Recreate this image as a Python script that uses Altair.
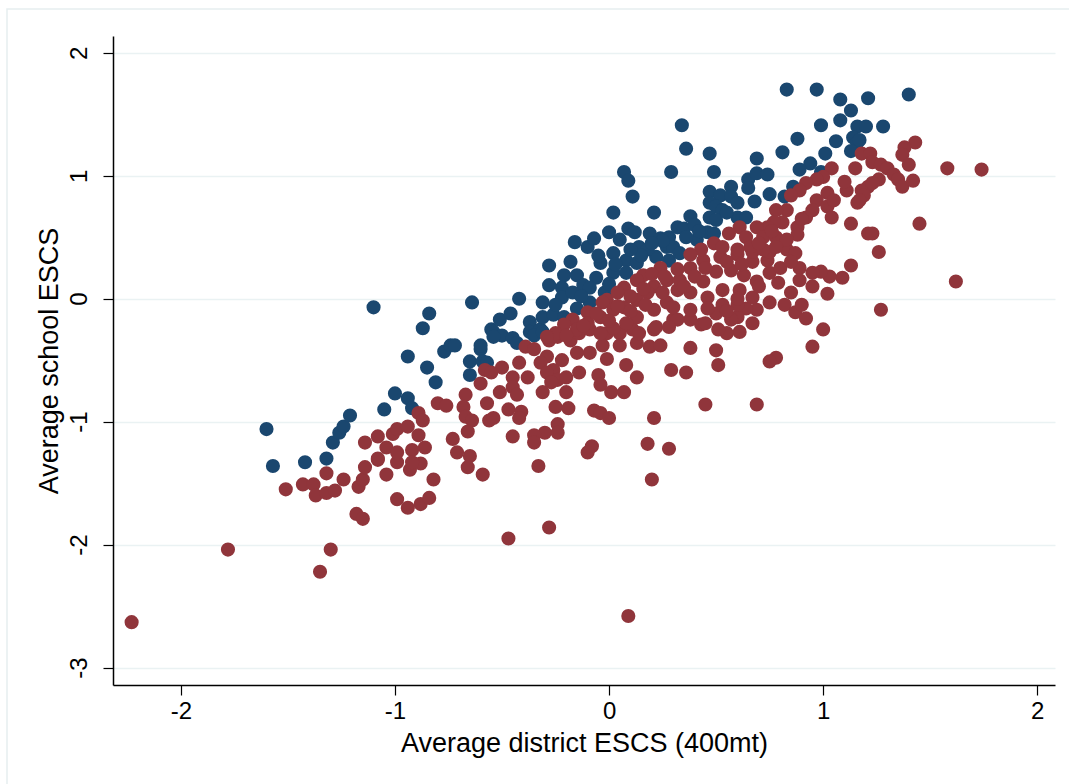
import altair as alt
import pandas as pd

# Blue group (navy)
blue_x = [-1.60,-1.57,-1.42,-1.32,-1.29,-1.26,-1.24,-1.21,-1.10,-1.05,-1.00,-0.94,-0.92,-0.94,-0.87,-0.84,-0.85,-0.81,-0.77,-0.74,
          -0.72,-0.65,-0.65,-0.64,-0.60,-0.59,-0.55,-0.54,-0.50,-0.45,-0.51,-0.46,-0.42,-0.37,-0.37,-0.32,-0.31,-0.31,-0.26,-0.21,
          -0.15,-0.09,-0.28,-0.21,-0.15,-0.04,0.08,0.13,0.22,0.28,-0.28,-0.22,-0.12,-0.06,0.02,0.08,-0.22,-0.17,-0.09,-0.16,
          -0.10,-0.07,0.02,0.14,0.18,0.27,0.00,0.09,0.12,0.05,0.19,0.24,0.32,0.02,0.21,0.07,0.09,0.11,0.29,0.34,
          0.36,0.47,0.49,0.69,0.81,0.83,0.97,1.08,1.13,1.21,1.40,0.99,1.08,1.16,1.20,1.28,0.88,1.06,1.14,1.16,
          1.17,0.94,1.01,1.13,0.89,0.99,0.65,0.69,0.74,0.65,0.57,0.47,0.52,0.57,0.75,0.82,0.86,0.68,0.47,0.50,
          0.53,0.38,0.60,0.64,0.47,0.50,0.35,0.41,0.46,0.49,0.28,0.30,0.33,-0.54,-0.60,-0.57,-0.43,-0.35,-0.31,
          -0.18,-0.05,0.03,0.15,-0.02,0.00,0.10,0.25,0.40,0.55,0.60,0.42,-0.13,-0.25,0.20,0.36]
blue_y = [-1.06,-1.36,-1.33,-1.30,-1.17,-1.09,-1.04,-0.95,-0.07,-0.90,-0.77,-0.81,-0.89,-0.47,-0.24,-0.12,-0.56,-0.68,-0.43,-0.38,
          -0.38,-0.51,-0.62,-0.03,-0.41,-0.51,-0.25,-0.27,-0.30,-0.32,-0.17,-0.12,0.00,-0.19,-0.27,-0.25,-0.03,-0.15,-0.13,-0.15,
          -0.08,-0.03,0.27,0.19,0.19,0.29,0.31,0.29,0.34,0.31,0.11,0.09,0.11,0.17,0.21,0.21,0.01,0.05,0.09,0.46,
          0.42,0.49,0.37,0.42,0.40,0.42,0.54,0.57,0.54,0.48,0.53,0.49,0.58,0.70,0.70,1.03,0.96,0.83,1.03,1.41,
          1.22,1.18,1.03,1.14,1.19,1.70,1.70,1.62,1.53,1.63,1.66,1.41,1.45,1.40,1.40,1.40,1.30,1.28,1.31,1.27,
          1.29,1.10,1.18,1.20,1.05,1.03,0.97,1.02,1.01,0.90,0.91,0.87,0.84,0.83,0.85,0.83,0.91,0.79,0.78,0.75,
          0.72,0.67,0.66,0.66,0.66,0.64,0.57,0.48,0.54,0.53,0.50,0.42,0.37,-0.31,-0.38,-0.52,-0.36,-0.30,-0.27,
          0.30,0.35,0.28,0.35,0.05,0.12,0.40,0.47,0.60,0.70,0.78,0.55,0.02,-0.05,0.45,0.50]

# Red group (maroon)
red_x = [-2.23,-1.78,-1.51,-1.43,-1.38,-1.37,-1.32,-1.28,-1.32,-1.24,-1.17,-1.15,-1.14,-1.18,-1.15,-1.04,-0.99,-0.94,-0.88,-0.84,
         -0.82,-0.66,-0.59,-0.93,-0.88,-0.99,-1.08,-1.30,-1.35,-1.14,-1.08,-1.04,-1.08,-1.01,-0.99,-0.94,-0.89,-0.86,-0.92,-0.99,
         -0.92,-0.89,-0.87,-0.80,-0.76,-0.67,-0.68,-0.67,-0.64,-0.66,-0.73,-0.71,-0.65,-0.60,-0.57,-0.58,-0.56,
         -0.39,-0.35,-0.28,-0.24,-0.18,-0.14,-0.09,-0.01,0.05,0.11,0.21,-0.03,0.05,0.13,0.19,0.24,-0.09,-0.15,-0.01,0.08,
         -0.22,-0.29,-0.32,-0.26,-0.42,-0.50,-0.55,-0.45,-0.38,-0.14,-0.05,-0.29,-0.24,-0.20,0.13,0.29,-0.04,0.01,0.07,-0.51,
         -0.45,-0.43,-0.31,-0.27,-0.20,-0.47,-0.41,-0.42,-0.54,-0.25,-0.19,-0.07,-0.04,0.00,0.21,-0.24,-0.24,-0.30,-0.35,-0.35,
         -0.45,-0.08,-0.10,0.18,0.28,-0.33,0.20,-0.47,-0.28,0.09,
         0.24,0.16,0.13,0.07,0.04,-0.01,-0.03,-0.10,-0.17,-0.21,-0.25,-0.29,0.27,0.21,0.18,0.13,0.07,0.02,-0.04,-0.10,
         -0.15,0.21,0.13,0.08,0.02,-0.04,0.27,0.30,0.22,0.14,
         1.13,1.09,1.03,0.99,0.95,0.95,0.89,0.89,1.02,0.85,0.79,0.75,0.82,0.87,0.90,0.92,1.00,0.95,0.78,0.75,
         0.67,0.61,0.55,0.51,0.69,0.64,0.60,0.57,0.50,0.43,0.38,0.32,0.38,0.50,0.51,0.36,0.45,0.69,0.63,0.67,
         0.74,0.75,0.69,0.61,0.53,0.46,0.38,0.32,0.44,0.50,0.57,0.38,0.44,0.52,0.60,0.67,0.75,0.83,0.87,0.30,
         0.38,0.46,0.53,0.60,0.67,0.33,0.28,
         1.18,1.15,1.11,1.18,1.16,1.21,1.21,1.13,1.04,1.00,0.97,0.92,0.89,0.85,1.02,0.97,1.02,1.04,0.92,0.88,
         0.88,0.83,0.81,0.78,0.77,0.74,0.69,0.61,0.56,0.64,0.72,0.78,0.83,0.49,0.43,0.38,0.53,0.60,0.66,0.72,0.78,
         1.43,1.38,1.37,1.40,1.58,1.74,1.22,1.23,1.27,1.30,1.33,1.35,1.37,1.42,1.26,1.23,1.19,1.17,1.45,1.23,
         1.26,1.62,1.27,
         -0.20,-0.12,-0.06,0.00,0.04,0.10,0.16,0.20,0.26,0.32,0.10,0.17,0.25,0.35,0.40,0.45,0.55,0.62,0.70,0.76,
         0.90,0.95,1.05,1.10,0.45,0.55,0.60,0.70,0.80,0.85]
red_y = [-2.63,-2.04,-1.55,-1.51,-1.51,-1.60,-1.58,-1.56,-1.42,-1.47,-1.53,-1.47,-1.37,-1.75,-1.79,-1.43,-1.63,-1.70,-1.67,-1.62,
         -1.47,-1.37,-1.43,-1.39,-1.34,-1.33,-1.31,-2.04,-2.22,-1.17,-1.12,-1.21,-1.30,-1.10,-1.06,-1.04,-1.11,-1.21,-1.23,-1.25,
         -1.33,-0.93,-0.99,-0.85,-0.87,-0.78,-0.88,-0.96,-0.99,-1.08,-1.14,-1.25,-1.28,-0.69,-0.85,-0.58,-0.99,
         -0.39,-0.41,-0.34,-0.31,-0.34,-0.28,-0.25,-0.28,-0.28,-0.25,-0.25,-0.38,-0.38,-0.36,-0.39,-0.38,-0.44,-0.44,-0.49,-0.54,
         -0.50,-0.47,-0.52,-0.58,-0.52,-0.56,-0.60,-0.64,-0.64,-0.60,-0.62,-0.60,-0.66,-0.64,-0.64,-0.58,-0.70,-0.76,-0.76,-0.76,
         -0.72,-0.78,-0.76,-0.68,-0.76,-0.90,-0.92,-0.97,-0.97,-0.88,-0.89,-0.91,-0.93,-0.97,-0.97,-1.02,-1.09,-1.09,-1.11,-1.17,
         -1.12,-1.20,-1.25,-1.18,-1.22,-1.36,-1.47,-1.95,-1.86,-2.58,
         0.25,0.19,0.15,0.09,0.05,-0.01,-0.03,-0.11,-0.17,-0.21,-0.28,-0.31,0.15,0.10,0.05,-0.01,-0.07,-0.09,-0.15,-0.20,
         -0.25,-0.09,-0.15,-0.20,-0.24,-0.28,-0.03,-0.17,-0.23,-0.28,
         0.27,0.17,0.18,0.22,0.21,0.10,0.25,0.15,0.04,0.05,0.13,-0.03,-0.05,-0.11,-0.05,-0.16,-0.25,-0.39,-0.48,-0.51,
         -0.20,-0.27,-0.28,-0.25,-0.09,-0.08,-0.15,-0.17,-0.12,-0.21,-0.17,-0.17,-0.40,-0.42,-0.54,-0.60,-0.86,-0.86,0.19,0.30,
         0.31,0.21,0.14,0.07,0.07,0.01,0.05,0.07,0.14,0.22,0.23,0.25,0.31,0.34,0.36,0.38,0.38,0.40,0.37,-0.07,
         -0.09,-0.08,-0.05,-0.05,0.01,0.15,-0.23,
         1.18,1.06,0.88,0.88,0.78,0.91,0.53,0.61,1.06,0.99,0.97,0.94,0.88,0.84,0.86,0.80,0.75,0.66,0.66,0.58,
         0.52,0.72,0.62,0.72,0.62,0.58,0.58,0.58,0.53,0.50,0.50,0.50,0.48,0.45,0.40,0.36,0.42,0.40,0.42,0.40,0.42,
         1.27,1.23,1.17,1.09,1.06,1.05,1.18,1.11,1.09,1.06,1.01,0.97,0.91,0.96,0.97,0.94,0.84,0.80,0.61,0.53,
         0.38,0.14,-0.09,
         -0.30,-0.22,-0.12,-0.18,-0.06,0.02,0.08,0.20,0.18,0.24,-0.10,-0.05,0.05,0.10,0.18,0.25,0.30,0.28,0.45,0.55,
         0.65,0.72,0.80,0.95,-0.20,-0.10,0.00,0.10,0.25,0.30]

x_ticks = [-2, -1, 0, 1, 2]
y_ticks = [-3, -2, -1, 0, 1, 2]

NAVY = "#1a476f"
MAROON = "#90353b"
FONT = "Liberation Sans"
LABEL_EXPR = "datum.value < 0 ? '-' + abs(datum.value) : '' + datum.value"

blue = pd.DataFrame({"x": blue_x, "y": blue_y})
red = pd.DataFrame({"x": red_x, "y": red_y})

xs = alt.Scale(domain=[-2.317, 2.083], nice=False, zero=False)
ys = alt.Scale(domain=[-3.141, 2.136], nice=False, zero=False)

x_axis = alt.Axis(values=x_ticks, title="Average district ESCS (400mt)", grid=False, labelExpr=LABEL_EXPR,
                  domainColor="black", domainWidth=1.5, tickColor="black", tickWidth=1.2, tickSize=10,
                  labelFontSize=24, labelFont=FONT, labelColor="black", labelPadding=4,
                  titleFont=FONT, titleFontSize=27, titleFontWeight="normal", titleColor="black", titlePadding=7)
y_axis = alt.Axis(values=y_ticks, title="Average school ESCS", grid=True, gridColor="#eaf2f3", gridWidth=1.5,
                  labelExpr=LABEL_EXPR,
                  domainColor="black", domainWidth=1.5, tickColor="black", tickWidth=1.2, tickSize=10,
                  labelFontSize=24, labelFont=FONT, labelColor="black", labelAngle=270, labelPadding=12,
                  titleFont=FONT, titleFontSize=27, titleFontWeight="normal", titleColor="black", titlePadding=4)

frame = alt.Chart(pd.DataFrame({"a": [0]})).mark_rect(fill=None, stroke="#e6eef0", strokeWidth=1.5).encode(
    x=alt.value(-106), x2=alt.value(1000), y=alt.value(-27), y2=alt.value(900))

pb = alt.Chart(blue).mark_circle(size=200, opacity=1, color=NAVY).encode(
    x=alt.X("x:Q", scale=xs, axis=x_axis), y=alt.Y("y:Q", scale=ys, axis=y_axis))
pr = alt.Chart(red).mark_circle(size=200, opacity=1, color=MAROON).encode(
    x=alt.X("x:Q", scale=xs), y=alt.Y("y:Q", scale=ys))

chart = alt.layer(frame, pb, pr).properties(
    width=942, height=649,
    autosize=alt.AutoSizeParams(type="none"),
    padding={"left": 113, "top": 36, "right": 14, "bottom": 99},
    background="white",
).configure_view(stroke=None)

chart.save("out.html", embed_options={"renderer": "svg", "actions": False})
